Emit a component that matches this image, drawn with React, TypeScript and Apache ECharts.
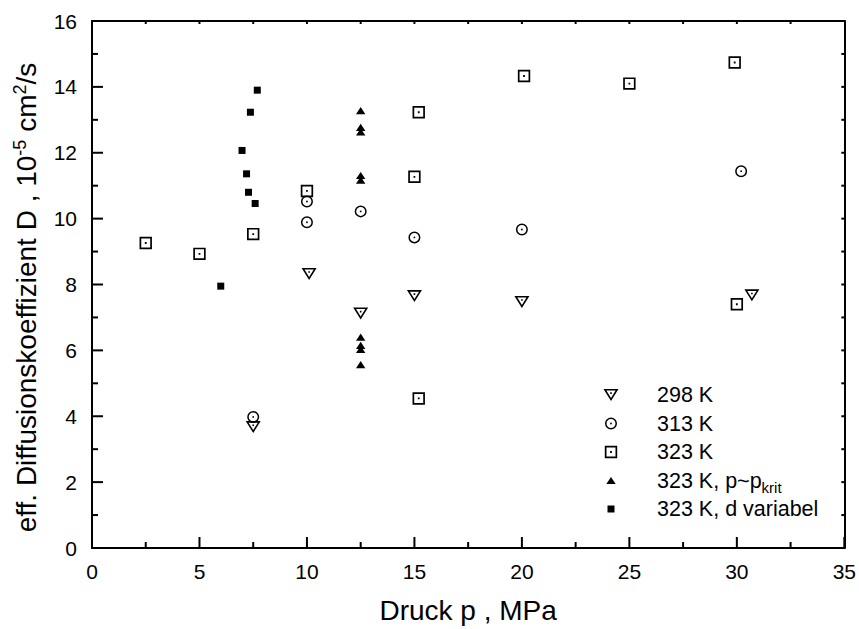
import React, { useEffect, useRef } from 'react';
import * as echarts from 'echarts';

const FONT = '"Liberation Sans", Arial, Helvetica, sans-serif';

// axis ranges / ticks
const xRange = [0, 35];
const xStep = 5;
const yRange = [0, 16];
const yStep = 2;

// series names
const seriesNames = ['298 K', '313 K', '323 K', '323 K, p~pkrit', '323 K, d variabel'];

// 298 K
const p298 = [7.5, 10.1, 12.5, 15, 20, 30.7];
const d298 = [3.67, 8.32, 7.12, 7.65, 7.47, 7.67];
// 313 K
const p313 = [7.5, 10, 10, 12.5, 15, 20, 30.2];
const d313 = [3.98, 10.52, 9.89, 10.22, 9.43, 9.67, 11.44];
// 323 K
const p323 = [2.5, 5, 7.5, 10, 15.2, 15, 15.2, 20.1, 25, 29.9, 30];
const d323 = [9.26, 8.93, 9.53, 10.84, 13.23, 11.27, 4.54, 14.33, 14.1, 14.74, 7.4];
// 323 K, p ~ p_krit
const pKrit = [12.5, 12.5, 12.5, 12.5, 12.5, 12.5, 12.5, 12.5, 12.5];
const dKrit = [13.28, 12.77, 12.63, 11.31, 11.17, 6.4, 6.15, 6.03, 5.57];
// 323 K, d variabel
const pVar = [7.69, 7.37, 6.98, 7.19, 7.28, 7.59, 5.99];
const dVar = [13.9, 13.23, 12.07, 11.36, 10.8, 10.46, 7.95];

// symbol shapes (16x16 box, padded so every marker keeps its own size)
const PAD = 'M0 0 M16 16 ';
const shapeTriDown =
  PAD +
  'M0.5 2 L15.5 2 L8 14 Z M3.39 3.6 L8 10.98 L12.61 3.6 Z M7.2 5.3 L8.8 5.3 L8.8 6.9 L7.2 6.9 Z';
const shapeCircle =
  PAD +
  'M2 8 A6 6 0 1 1 14 8 A6 6 0 1 1 2 8 Z M3.5 8 A4.5 4.5 0 1 0 12.5 8 A4.5 4.5 0 1 0 3.5 8 Z M7.1 8 A0.9 0.9 0 1 1 8.9 8 A0.9 0.9 0 1 1 7.1 8 Z';
const shapeSquare =
  PAD +
  'M1.8 1.8 L14.2 1.8 L14.2 14.2 L1.8 14.2 Z M3.5 3.5 L3.5 12.5 L12.5 12.5 L12.5 3.5 Z M7.1 7.1 L8.9 7.1 L8.9 8.9 L7.1 8.9 Z';
const shapeTriUp = PAD + 'M8 4.4 L12.7 11.6 L3.3 11.6 Z';
const shapeRect = PAD + 'M4.5 4.5 L11.5 4.5 L11.5 11.5 L4.5 11.5 Z';

const shapes = [shapeTriDown, shapeCircle, shapeSquare, shapeTriUp, shapeRect];
const xs = [p298, p313, p323, pKrit, pVar];
const ys = [d298, d313, d323, dKrit, dVar];

function pairs(a: number[], b: number[]) {
  return a.map((v, i) => [v, b[i]]);
}

// tick marks derived from the axis ranges: [side, value, length]
// side 0 bottom, 1 top, 2 left, 3 right
function tickMarks() {
  const out: number[][] = [];
  for (let v = xRange[0]; v <= xRange[1] + 1e-9; v += xStep / 2) {
    const major = Math.abs(v / xStep - Math.round(v / xStep)) < 1e-9;
    out.push([0, v, major ? 11 : 6]);
    if (v > xRange[0] && v < xRange[1]) out.push([1, v, 3]);
  }
  for (let v = yRange[0]; v <= yRange[1] + 1e-9; v += yStep / 2) {
    const major = Math.abs(v / yStep - Math.round(v / yStep)) < 1e-9;
    out.push([2, v, major ? 11 : 6]);
    if (v > yRange[0] && v < yRange[1]) out.push([3, v, 3]);
  }
  return out;
}

const BLACK = { color: '#000', width: 2 };

export default function App() {
  const ref = useRef<HTMLDivElement>(null);
  useEffect(() => {
    const chart = echarts.init(ref.current!, null, { renderer: 'svg' });
    const xBase = { type: 'value', min: xRange[0], max: xRange[1], interval: xStep, splitLine: { show: false } };
    const yBase = { type: 'value', min: yRange[0], max: yRange[1], interval: yStep, splitLine: { show: false } };
    const axisLine = { show: true, onZero: false, lineStyle: BLACK };
    const option: any = {
      animation: false,
      backgroundColor: '#fff',
      textStyle: { fontFamily: FONT, color: '#000' },
      grid: { left: 92, right: 11, top: 21, bottom: 79, containLabel: false },
      legend: {
        orient: 'vertical',
        left: 603,
        top: 381,
        padding: 0,
        itemWidth: 16,
        itemHeight: 16,
        itemGap: 0.5,
        selectedMode: false,
        data: seriesNames.map((n, i) => ({ name: n, icon: 'path://' + shapes[i] })),
        formatter: (name: string) =>
          name === '323 K, p~pkrit' ? '323 K, p~p{sub|krit}' : name,
        textStyle: {
          fontFamily: FONT,
          fontSize: 21.5,
          color: '#000',
          lineHeight: 28,
          padding: [0, 0, 0, 33],
          rich: {
            sub: { fontFamily: FONT, fontSize: 15, color: '#000', lineHeight: 6, verticalAlign: 'bottom' },
          },
        },
      },
      xAxis: [
        {
          ...xBase,
          position: 'bottom',
          name: 'Druck p , MPa',
          nameLocation: 'middle',
          nameGap: 48,
          nameTextStyle: { fontFamily: FONT, fontSize: 28, color: '#000' },
          axisLine,
          axisTick: { show: false },
          axisLabel: { show: true, fontFamily: FONT, fontSize: 21, color: '#000', margin: 13 },
        },
        {
          ...xBase,
          position: 'top',
          axisLine,
          axisTick: { show: false },
          axisLabel: { show: false },
        },
      ],
      yAxis: [
        {
          ...yBase,
          position: 'left',
          name: 'eff. Diffusionskoeffizient D , 10{sup|-5} cm{sup|2}/s',
          nameLocation: 'middle',
          nameGap: 36,
          nameTextStyle: {
            fontFamily: FONT,
            fontSize: 28,
            color: '#000',
            lineHeight: 32,
            padding: [0, 26, 0, 0],
            rich: {
              sup: { fontFamily: FONT, fontSize: 18, color: '#000', lineHeight: 21, verticalAlign: 'top' },
            },
          },
          axisLine,
          axisTick: { show: false },
          axisLabel: { show: true, fontFamily: FONT, fontSize: 21, color: '#000', margin: 15 },
        },
        {
          ...yBase,
          position: 'right',
          axisLine,
          axisTick: { show: false },
          axisLabel: { show: false },
        },
      ],
      series: [
        {
          name: 'ticks',
          type: 'custom',
          xAxisIndex: 0,
          yAxisIndex: 0,
          clip: false,
          silent: true,
          z: 10,
          data: tickMarks(),
          renderItem: (_params: any, api: any) => {
            const side = api.value(0);
            const v = api.value(1);
            const len = api.value(2);
            let p: number[];
            let q: number[];
            if (side === 0) {
              p = api.coord([v, yRange[0]]);
              q = [p[0], p[1] - len];
            } else if (side === 1) {
              p = api.coord([v, yRange[1]]);
              q = [p[0], p[1] + len];
            } else if (side === 2) {
              p = api.coord([xRange[0], v]);
              q = [p[0] + len, p[1]];
            } else {
              p = api.coord([xRange[1], v]);
              q = [p[0] - len, p[1]];
            }
            return {
              type: 'line',
              shape: { x1: p[0], y1: p[1], x2: q[0], y2: q[1] },
              style: { stroke: '#000', lineWidth: 2 },
            };
          },
        },
        ...seriesNames.map((n, i) => ({
          name: n,
          type: 'scatter',
          xAxisIndex: 0,
          yAxisIndex: 0,
          symbol: 'path://' + shapes[i],
          symbolSize: 16,
          z: 3,
          itemStyle: { color: '#000', opacity: 1 },
          emphasis: { disabled: true },
          data: pairs(xs[i], ys[i]),
        })),
      ],
    };
    chart.setOption(option);
    return () => chart.dispose();
  }, []);
  return (
    <div
      ref={ref}
      style={{ position: 'fixed', left: 0, top: 0, width: 859, height: 629, background: '#fff' }}
    />
  );
}
